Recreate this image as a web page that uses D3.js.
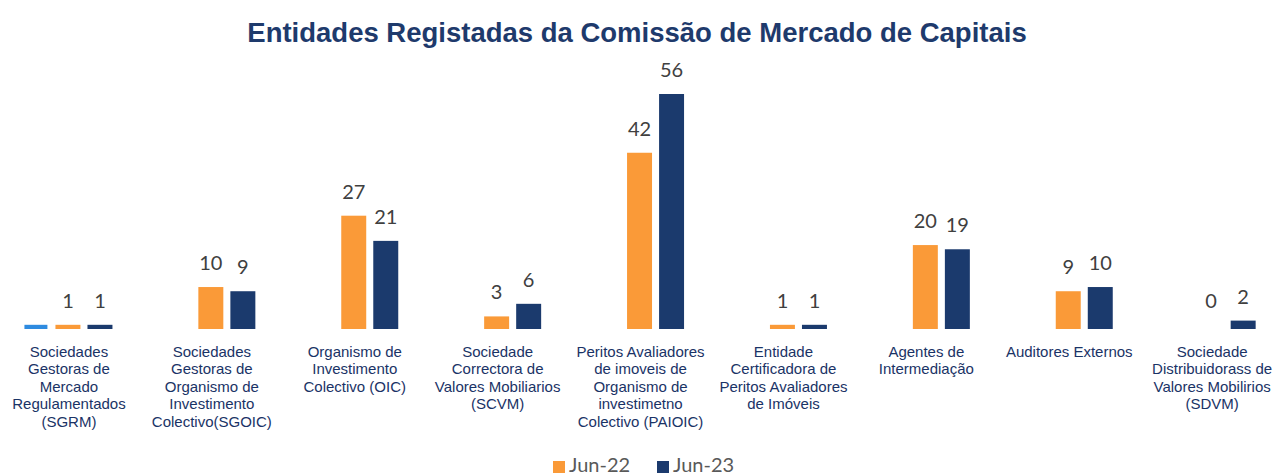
<!DOCTYPE html>
<html>
<head>
<meta charset="utf-8">
<script src="https://cdn.jsdelivr.net/npm/d3@7"></script>
<style>
  body { margin: 0; background: #fff; }
  svg { display: block; }
</style>
</head>
<body>
<svg id="chart"></svg>
<script>
const categories = [
  "SGRM", "SGOIC", "OIC", "SCVM", "PAIOIC", "ECPAI", "AI", "AE", "SDVM"
];
const categoryLines = [
  ["Sociedades", "Gestoras de", "Mercado", "Regulamentados", "(SGRM)"],
  ["Sociedades", "Gestoras de", "Organismo de", "Investimento", "Colectivo(SGOIC)"],
  ["Organismo de", "Investimento", "Colectivo (OIC)"],
  ["Sociedade", "Correctora de", "Valores Mobiliarios", "(SCVM)"],
  ["Peritos Avaliadores", "de imoveis de", "Organismo de", "investimetno", "Colectivo (PAIOIC)"],
  ["Entidade", "Certificadora de", "Peritos Avaliadores", "de Imóveis"],
  ["Agentes de", "Intermediação"],
  ["Auditores Externos"],
  ["Sociedade", "Distribuidorass de", "Valores Mobilirios", "(SDVM)"]
];
const seriesNames = ["Jun-22", "Jun-23"];
const jun22 = [1, 10, 27, 3, 42, 1, 20, 9, 0];
const jun23 = [1, 9, 21, 6, 56, 1, 19, 10, 2];
// stray light-blue bar only shown in the first group (no legend entry)
const extra = [1, null, null, null, null, null, null, null, null];

const W = 1278, H = 476;
const baseY = 329;
const colors = { "Jun-22": "#FA9A38", "Jun-23": "#1B3A6D", extra: "#2E8BE0" };

const svg = d3.select("#chart").attr("width", W).attr("height", H);

svg.append("text")
  .attr("x", 637).attr("y", 42)
  .attr("text-anchor", "middle")
  .attr("font-family", "Liberation Sans, Arial, sans-serif")
  .attr("font-weight", "bold")
  .attr("font-size", 27.5)
  .attr("fill", "#1E3A6C")
  .text("Entidades Registadas da Comissão de Mercado de Capitais");

const x0 = d3.scaleBand().domain(categories).range([12.5, 1298.6]).padding(0);
const x1 = d3.scaleBand().domain(seriesNames).range([-28.5, 28.5]).paddingInner(0.22);
const y = d3.scaleLinear().domain([0, 56]).range([baseY, 94]);

const rows = categories.map((c, i) => ({ cat: c, i, vals: [
  { s: "Jun-22", v: jun22[i] },
  { s: "Jun-23", v: jun23[i] }
]}));

const g = svg.append("g");

const grp = g.selectAll(".grp").data(rows).enter().append("g")
  .attr("transform", d => `translate(${x0(d.cat) + x0.bandwidth() / 2},0)`);

grp.selectAll("rect.bar").data(d => d.vals).enter().append("rect")
  .attr("class", "bar")
  .attr("x", d => x1(d.s))
  .attr("width", x1.bandwidth())
  .attr("y", d => d.v > 0 ? Math.min(y(d.v), baseY - 4) : baseY)
  .attr("height", d => d.v > 0 ? Math.max(baseY - y(d.v), 4) : 0)
  .attr("fill", d => colors[d.s]);

grp.selectAll("text.val").data(d => d.vals).enter().append("text")
  .attr("class", "val")
  .attr("x", d => x1(d.s) + x1.bandwidth() / 2)
  .attr("y", d => Math.min(y(d.v), baseY - 4) - 17)
  .attr("text-anchor", "middle")
  .attr("font-family", "Lato, Open Sans, sans-serif")
  .attr("font-size", 20)
  .attr("fill", "#404040")
  .text(d => d.v);

// extra bar to the left of the Jun-22 slot
grp.filter(d => extra[d.i] != null).append("rect")
  .attr("x", x1("Jun-22") - (x1("Jun-23") - x1("Jun-22")) + 1)
  .attr("width", x1.bandwidth() - 2)
  .attr("y", d => Math.min(y(extra[d.i]), baseY - 4))
  .attr("height", d => Math.max(baseY - y(extra[d.i]), 4))
  .attr("fill", colors.extra);

const lbl = grp.append("text")
  .attr("text-anchor", "middle")
  .attr("font-family", "Liberation Sans, Arial, sans-serif")
  .attr("font-size", 15)
  .attr("fill", "#1A3366");

lbl.selectAll("tspan").data(d => categoryLines[d.i]).enter().append("tspan")
  .attr("x", -15)
  .attr("y", (d, j) => 357 + j * 17.4)
  .text(d => d);

// legend
const leg = svg.append("g").attr("transform", "translate(553,0)");
const li = leg.selectAll("g").data(seriesNames).enter().append("g")
  .attr("transform", (d, i) => `translate(${i * 104},0)`);
li.append("rect").attr("x", 0).attr("y", 461).attr("width", 12).attr("height", 12)
  .attr("fill", d => colors[d]);
li.append("text").attr("x", 16).attr("y", 472)
  .attr("font-family", "Lato, Open Sans, sans-serif")
  .attr("font-size", 20)
  .attr("fill", "#595959")
  .text(d => d);
</script>
</body>
</html>
